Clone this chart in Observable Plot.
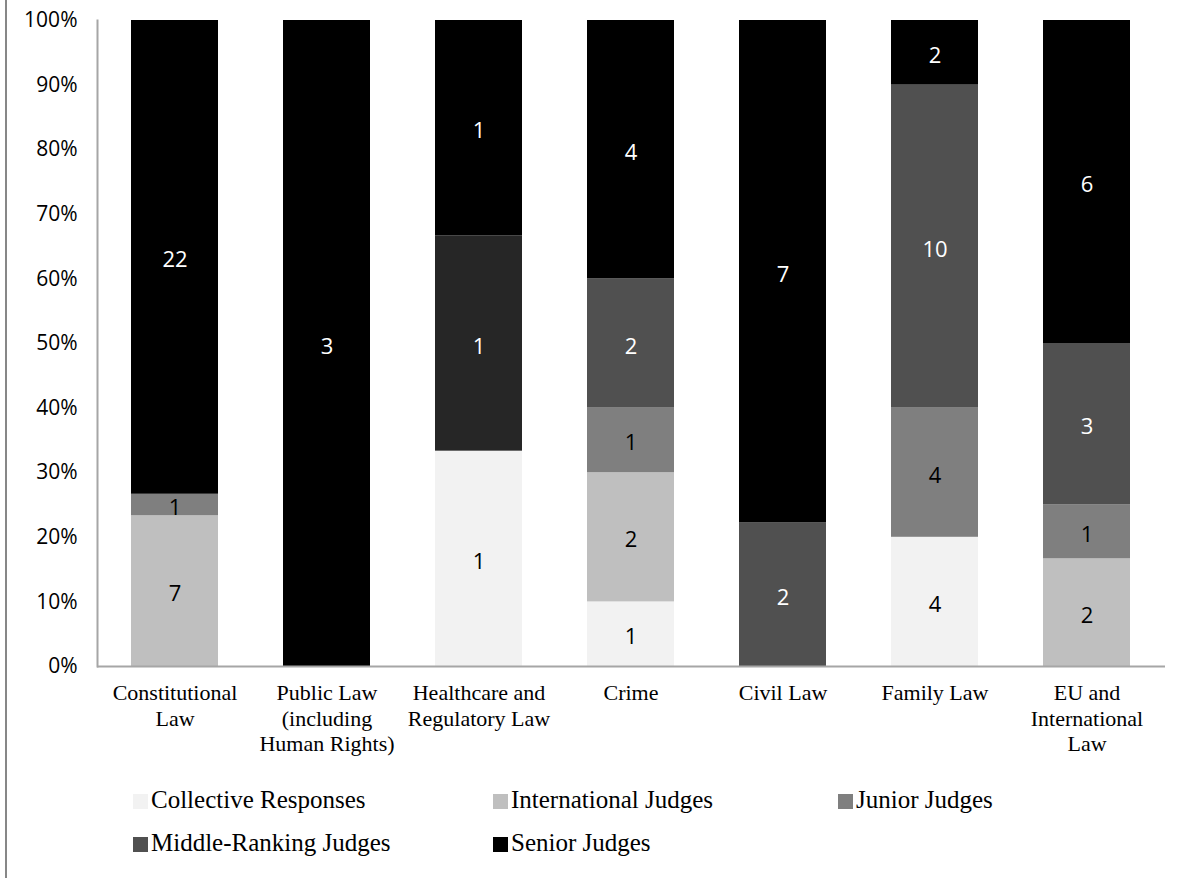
<!DOCTYPE html>
<html>
<head>
<meta charset="utf-8">
<script src="https://cdn.jsdelivr.net/npm/d3@7"></script>
<script src="https://cdn.jsdelivr.net/npm/@observablehq/plot@0.6"></script>
<style>
  html, body { margin: 0; padding: 0; background: #fff; }
  #page { position: relative; width: 1190px; height: 878px; overflow: hidden; }
  #edge { position: absolute; left: 5px; top: 0; width: 2px; height: 878px; background: #878787; }
  #chart { position: absolute; left: 0; top: 0; }
  #legend { position: absolute; left: 0; top: 770px; width: 1190px; height: 108px; }
  .item { position: absolute; display: flex; align-items: center; height: 30px;
          font-family: "Liberation Serif", serif; font-size: 25px; color: #000; white-space: nowrap; }
  .sw { width: 15px; height: 15px; margin-right: 3px; margin-top: 2px; }
</style>
</head>
<body>
<div id="page">
  <div id="chart"></div>
  <div id="edge"></div>
  <div id="legend"></div>
</div>
<script>
// ---- data ----
const categories = [
  "Constitutional Law",
  "Public Law (including Human Rights)",
  "Healthcare and Regulatory Law",
  "Crime",
  "Civil Law",
  "Family Law",
  "EU and International Law"
];
const categoryLabels = [
  "Constitutional\nLaw",
  "Public Law\n(including\nHuman Rights)",
  "Healthcare and\nRegulatory Law",
  "Crime",
  "Civil Law",
  "Family Law",
  "EU and\nInternational\nLaw"
];
const seriesNames = [
  "Collective Responses",
  "International Judges",
  "Junior Judges",
  "Middle-Ranking Judges",
  "Senior Judges"
];
const collectiveResponses = [0, 0, 1, 1, 0, 4, 0];
const internationalJudges = [7, 0, 0, 2, 0, 0, 2];
const juniorJudges        = [1, 0, 0, 1, 0, 4, 1];
const middleRankingJudges = [0, 0, 1, 2, 2, 10, 3];
const seniorJudges        = [22, 3, 1, 4, 7, 2, 6];
const yTicks = [0, 0.1, 0.2, 0.3, 0.4, 0.5, 0.6, 0.7, 0.8, 0.9, 1];

// ---- styles ----
const seriesColors = ["#f2f2f2", "#bfbfbf", "#7f7f7f", "#505050", "#000000"];
const labelColors  = ["#000000", "#000000", "#000000", "#ffffff", "#ffffff"];
const overrideCategory = "Healthcare and Regulatory Law";
const overrideSeries = "Middle-Ranking Judges";
const overrideColor = "#262626";

const seriesValues = [collectiveResponses, internationalJudges, juniorJudges, middleRankingJudges, seniorJudges];
const rows = [];
categories.forEach((c, i) => {
  seriesNames.forEach((s, j) => {
    const v = seriesValues[j][i];
    if (v > 0) {
      rows.push({
        category: c,
        series: s,
        value: v,
        fill: (c === overrideCategory && s === overrideSeries) ? overrideColor : seriesColors[j],
        textFill: labelColors[j]
      });
    }
  });
});
const labelOf = new Map(categories.map((c, i) => [c, categoryLabels[i]]));

const stackOpts = {offset: "normalize", order: seriesNames, x: "category", y: "value", z: "series"};

const chart = Plot.plot({
  width: 1190,
  height: 770,
  marginLeft: 97,
  marginRight: 25,
  marginTop: 20,
  marginBottom: 104,
  style: {background: "#fff", color: "#000", overflow: "visible"},
  color: {type: "identity"},
  x: {domain: categories, paddingInner: 0.426, paddingOuter: 0.213, label: null},
  y: {domain: [0, 1], label: null},
  marks: [
    Plot.barY(rows, Plot.stackY({...stackOpts, fill: "fill"})),
    Plot.text(rows, Plot.stackY({...stackOpts, text: d => String(d.value), fill: "textFill",
      fontSize: 22, fontFamily: "Open Sans", lineAnchor: "middle", dy: 3})),
    Plot.frame({anchor: "left", stroke: "#a6a6a6", strokeWidth: 2}),
    Plot.ruleY([0], {stroke: "#a6a6a6", strokeWidth: 2}),
    Plot.axisY({ticks: yTicks, tickFormat: d3.format(".0%"), tickSize: 0, tickPadding: 20,
      fontSize: 21, fontFamily: "Open Sans", label: null, anchor: "left"}),
    Plot.axisX({tickSize: 0, tickPadding: 16, tickFormat: d => labelOf.get(d),
      fontSize: 22, fontFamily: "Liberation Serif", lineHeight: 1.15, label: null, anchor: "bottom"})
  ]
});
document.getElementById("chart").appendChild(chart);

// ---- legend ----
const legendPos = [[133, 15], [493, 15], [838, 15], [133, 58], [493, 58]];
const legend = document.getElementById("legend");
seriesNames.forEach((s, j) => {
  const item = document.createElement("div");
  item.className = "item";
  item.style.left = legendPos[j][0] + "px";
  item.style.top = legendPos[j][1] + "px";
  const sw = document.createElement("span");
  sw.className = "sw";
  sw.style.background = seriesColors[j];
  const t = document.createElement("span");
  t.textContent = s;
  item.appendChild(sw);
  item.appendChild(t);
  legend.appendChild(item);
});
</script>
</body>
</html>
